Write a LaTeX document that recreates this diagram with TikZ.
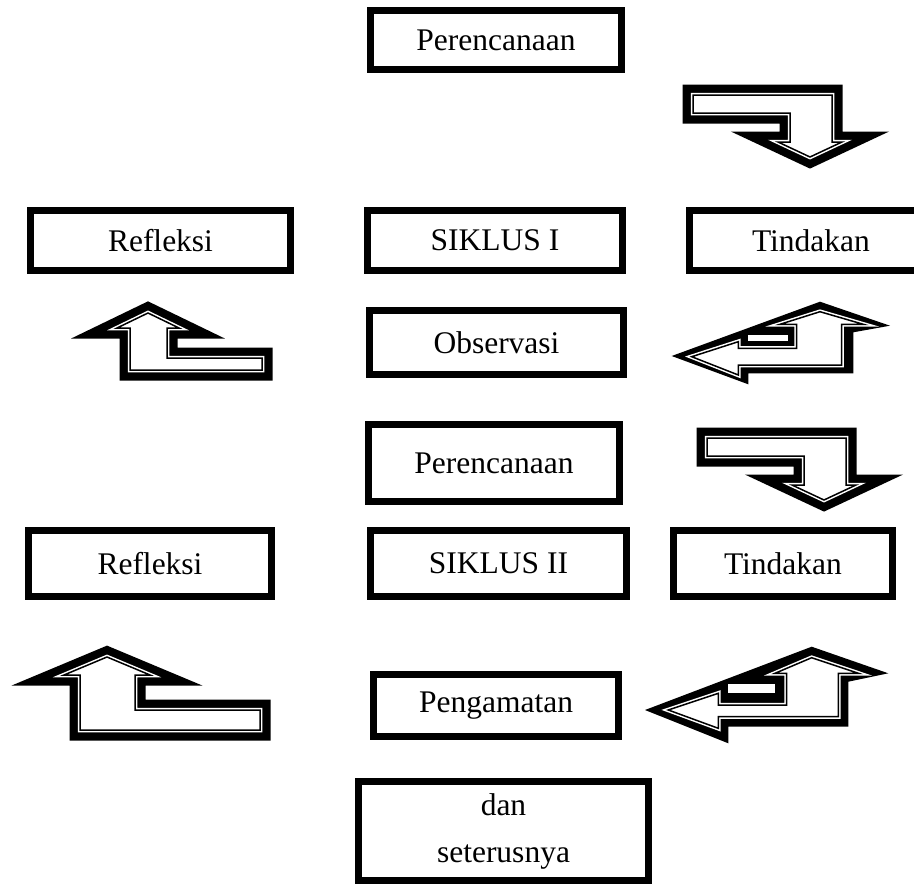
\documentclass[tikz,border=0pt]{standalone}
\usepackage{fontspec}
\setmainfont{Liberation Serif}
\newcommand\blockarrowS[1]{%
  \draw[line width=21pt,line join=miter,miter limit=12] #1;
  \fill[white] #1;
  \draw[white,line width=4.5pt,line join=miter,miter limit=12] #1;
  \draw[line width=1.5pt,line join=miter,miter limit=12] #1;}
\newcommand\blockarrowO[2]{%
  \fill #1;
  \fill[white] #2;
  \draw[white,line width=4.5pt,line join=miter,miter limit=12] #2;
  \draw[line width=1.5pt,line join=miter,miter limit=12] #2;}
\begin{document}
\begin{tikzpicture}[x=1pt,y=-1pt,
  box/.style={draw, line width=7pt, fill=white, inner sep=0pt, align=center,
    font=\fontsize{31.5}{38}\selectfont}]
\clip (0,0) rectangle (914,886);
\fill[white] (0,0) rectangle (914,886);
% boxes
\node[box, minimum width=251pt, minimum height=59pt] (p1) at (496,40) {Perencanaan};
\node[box, minimum width=260pt, minimum height=60pt] (r1) at (160.5,240.5) {Refleksi};
\node[box, minimum width=255pt, minimum height=60pt] (s1) at (495,240.5) {SIKLUS I};
\node[box, minimum width=243pt, minimum height=60pt] (t1) at (811,240.5) {Tindakan};
\node[box, minimum width=254pt, minimum height=64pt] (o1) at (496.5,342.5) {Observasi};
\node[box, minimum width=251pt, minimum height=77pt] (p2) at (494,463) {Perencanaan};
\node[box, minimum width=243pt, minimum height=66pt] (r2) at (150,563.5) {Refleksi};
\node[box, minimum width=256pt, minimum height=66pt] (s2) at (498.5,563.5) {SIKLUS II};
\node[box, minimum width=219pt, minimum height=66pt] (t2) at (783,563.5) {Tindakan};
\node[box, minimum width=245pt, minimum height=62pt] (pg) at (496,705.5) {Pengamatan};
\node[box, minimum width=290pt, minimum height=99pt,
  font=\fontsize{31.5}{47}\selectfont] (dn) at (503.5,831) {dan\\seterusnya};
% down arrows (right side)
\blockarrowS{(693,95) -- (832,95) -- (832,142) -- (842,142) -- (810,157) -- (778,142) -- (790,142) -- (790,113) -- (693,113) -- cycle}
\begin{scope}[shift={(14,343)}]
\blockarrowS{(693,95) -- (832,95) -- (832,142) -- (842,142) -- (810,157) -- (778,142) -- (790,142) -- (790,113) -- (693,113) -- cycle}
\end{scope}
% up arrows (left side)
\blockarrowS{(148,313) -- (179,328) -- (167,328) -- (167,358) -- (262,358) -- (262,370) -- (130,370) -- (130,328) -- (117,328) -- cycle}
\blockarrowS{(107,657) -- (150,675) -- (135,675) -- (135,710) -- (260,710) -- (260,730) -- (80,730) -- (80,675) -- (64,675) -- cycle}
% left arrows (right side)
\blockarrowO{(671.7,356) -- (820,301.7) -- (890,325.7) -- (853.3,332.3) -- (853.3,373.3) -- (748.3,373.3) -- (748.3,384.3) -- cycle}
{(691.7,356.7) -- (738.3,341.7) -- (738.3,348.3) -- (796.7,348.3) -- (796.7,324.3) -- (780,324.3) -- (820,311.7) -- (863.3,324.3) -- (841.7,324.3) -- (841.7,365) -- (738.3,365) -- (738.3,375) -- cycle}
\fill[white] (748.3,335) rectangle (788.3,340.7);
\blockarrowO{(645,710) -- (811.7,646.7) -- (888.3,673.3) -- (848.3,681.7) -- (848.3,726.7) -- (728.3,726.7) -- (728.3,743.3) -- cycle}
{(668.3,710) -- (718.3,693.3) -- (718.3,705) -- (786.7,705) -- (786.7,673.3) -- (775,673.3) -- (811.7,657.7) -- (858.3,673.3) -- (838.3,673.3) -- (838.3,716.7) -- (718.3,716.7) -- (718.3,728.3) -- cycle}
\fill[white] (728.3,684.3) rectangle (775,692.7);
\end{tikzpicture}
\end{document}
